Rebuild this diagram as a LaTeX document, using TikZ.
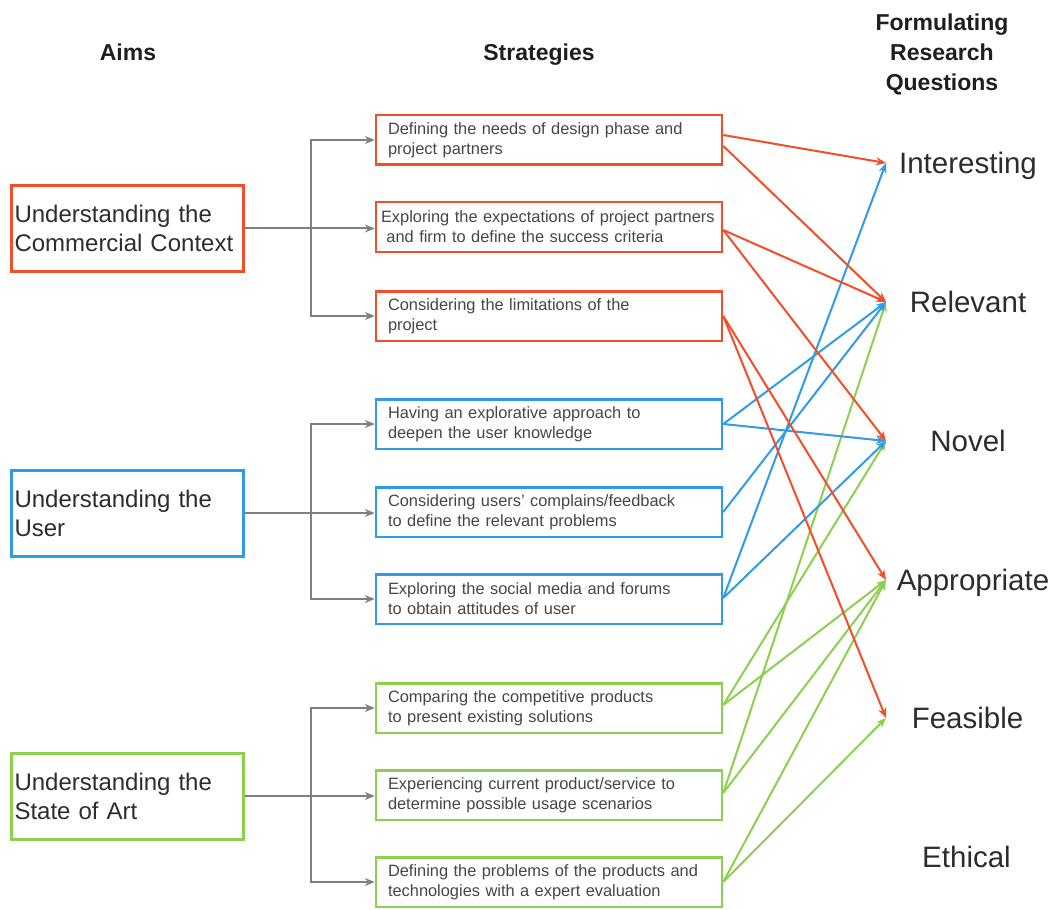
\documentclass[tikz,border=0pt]{standalone}
\usepackage{fontspec}
\setmainfont{Liberation Sans}
\usetikzlibrary{arrows.meta,calc}
\definecolor{cred}{RGB}{242,78,40}
\definecolor{cblue}{RGB}{48,155,230}
\definecolor{cgreen}{RGB}{140,208,80}
\definecolor{cgrey}{RGB}{128,128,128}
\definecolor{ctext}{RGB}{45,45,45}
\definecolor{cstext}{RGB}{70,70,70}
\hyphenpenalty=10000
\exhyphenpenalty=10000
\begin{document}
\begin{tikzpicture}[x=1pt,y=-1pt,
  aim/.style={draw, line width=3pt, minimum width=232pt, minimum height=86pt,
    text width=226pt, inner xsep=3pt, align=left,
    font=\fontsize{24}{29}\selectfont, text=ctext},
  strat/.style={draw, line width=2.5pt, minimum height=49.5pt, text width=322pt,
    inner xsep=12pt, align=left, font=\fontsize{16.4}{20}\selectfont, text=cstext},
  head/.style={font=\bfseries\fontsize{23}{30}\selectfont, align=center, text=black!88},
  qlabel/.style={anchor=base, font=\fontsize{29.5}{30}\selectfont, text=ctext},
  conn/.style={draw=cgrey, line width=2pt, -{Stealth[length=10pt,width=8pt]}},
  rarr/.style={draw=cred, line width=2pt, -{Stealth[length=10pt,width=8pt]}},
  barr/.style={draw=cblue, line width=2pt, -{Stealth[length=10pt,width=8pt]}},
  garr/.style={draw=cgreen, line width=2pt, -{Stealth[length=10pt,width=8pt]}}]
\useasboundingbox (0,0) rectangle (1056,909);
\fill[white] (0,0) rectangle (1056,909);

% headers
\node[head, anchor=base] (hAims) at (128,61) {Aims};
\node[head, anchor=base] (hStrat) at (539,61) {Strategies};
\node[head] (hQ) at (942,54) {Formulating\\Research\\Questions};

% aims
\node[aim, draw=cred] (a1) at (127.5,228.5) {Understanding the\\Commercial Context};
\node[aim, draw=cblue] (a2) at (127.5,513) {Understanding the\\User};
\node[aim, draw=cgreen] (a3) at (127.5,796) {Understanding the\\State of Art};

% strategies
\node[strat, draw=cred] (s1) at (549,140) {Defining the needs of design phase and\\project partners};
\node[strat, draw=cred, inner xsep=5pt, text width=336pt] (s2) at (549,227) {Exploring the expectations of project partners\\\ and firm to define the success criteria};
\node[strat, draw=cred] (s3) at (549,316) {Considering the limitations of the\\project};
\node[strat, draw=cblue] (s4) at (549,424) {Having an explorative approach to\\deepen the user knowledge};
\node[strat, draw=cblue] (s5) at (549,512) {Considering users’ complains/feedback\\to define the relevant problems};
\node[strat, draw=cblue] (s6) at (549,599) {Exploring the social media and forums\\to obtain attitudes of user};
\node[strat, draw=cgreen] (s7) at (549,708) {Comparing the competitive products\\to present existing solutions};
\node[strat, draw=cgreen] (s8) at (549,795) {Experiencing current product/service to\\determine possible usage scenarios};
\node[strat, draw=cgreen] (s9) at (549,882) {Defining the problems of the products and\\technologies with a expert evaluation};

% question labels and arrow tips
\node[qlabel] (qI) at (968,174) {Interesting};
\node[qlabel] (qR) at (968,312) {Relevant};
\node[qlabel] (qN) at (968,451) {Novel};
\node[qlabel] (qA) at (973,590) {Appropriate};
\node[qlabel] (qF) at (967.5,728) {Feasible};
\node[qlabel] (qE) at (966.5,867) {Ethical};
\coordinate (tI) at (886,163);
\coordinate (tR) at (886,302);
\coordinate (tN) at (886,441);
\coordinate (tA) at (886,580);
\coordinate (tF) at (886,718);

% aim -> strategies
\draw[conn] (a1.east) -- (a1.east -| s2.west);
\draw[conn] (a1.east) -- ++(66,0) |- (s1.west);
\draw[conn] (a1.east) -- ++(66,0) |- (s3.west);
\draw[conn] (a2.east) -- (a2.east -| s5.west);
\draw[conn] (a2.east) -- ++(66,0) |- (s4.west);
\draw[conn] (a2.east) -- ++(66,0) |- (s6.west);
\draw[conn] (a3.east) -- (a3.east -| s8.west);
\draw[conn] (a3.east) -- ++(66,0) |- (s7.west);
\draw[conn] (a3.east) -- ++(66,0) |- (s9.west);

% green
\draw[garr] ([yshift=3pt]s7.east) -- (tN);
\draw[garr] ([yshift=3pt]s7.east) -- (tA);
\draw[garr] ([yshift=2pt]s8.east) -- (tR);
\draw[garr] ([yshift=2pt]s8.east) -- (tA);
\draw[garr] (s9.east) -- (tA);
\draw[garr] (s9.east) -- (tF);
% blue
\draw[barr] (s4.east) -- (tR);
\draw[barr] (s4.east) -- (tN);
\draw[barr] (s5.east) -- (tR);
\draw[barr] ([yshift=1pt]s6.east) -- (tI);
\draw[barr] ([yshift=1pt]s6.east) -- (tN);
% red
\draw[rarr] ([yshift=5pt]s1.east) -- (tI);
\draw[rarr] ([yshift=-6pt]s1.east) -- (tR);
\draw[rarr] ([yshift=-3pt]s2.east) -- (tR);
\draw[rarr] ([yshift=-3pt]s2.east) -- (tN);
\draw[rarr] (s3.east) -- (tA);
\draw[rarr] (s3.east) -- (tF);
\end{tikzpicture}
\end{document}
